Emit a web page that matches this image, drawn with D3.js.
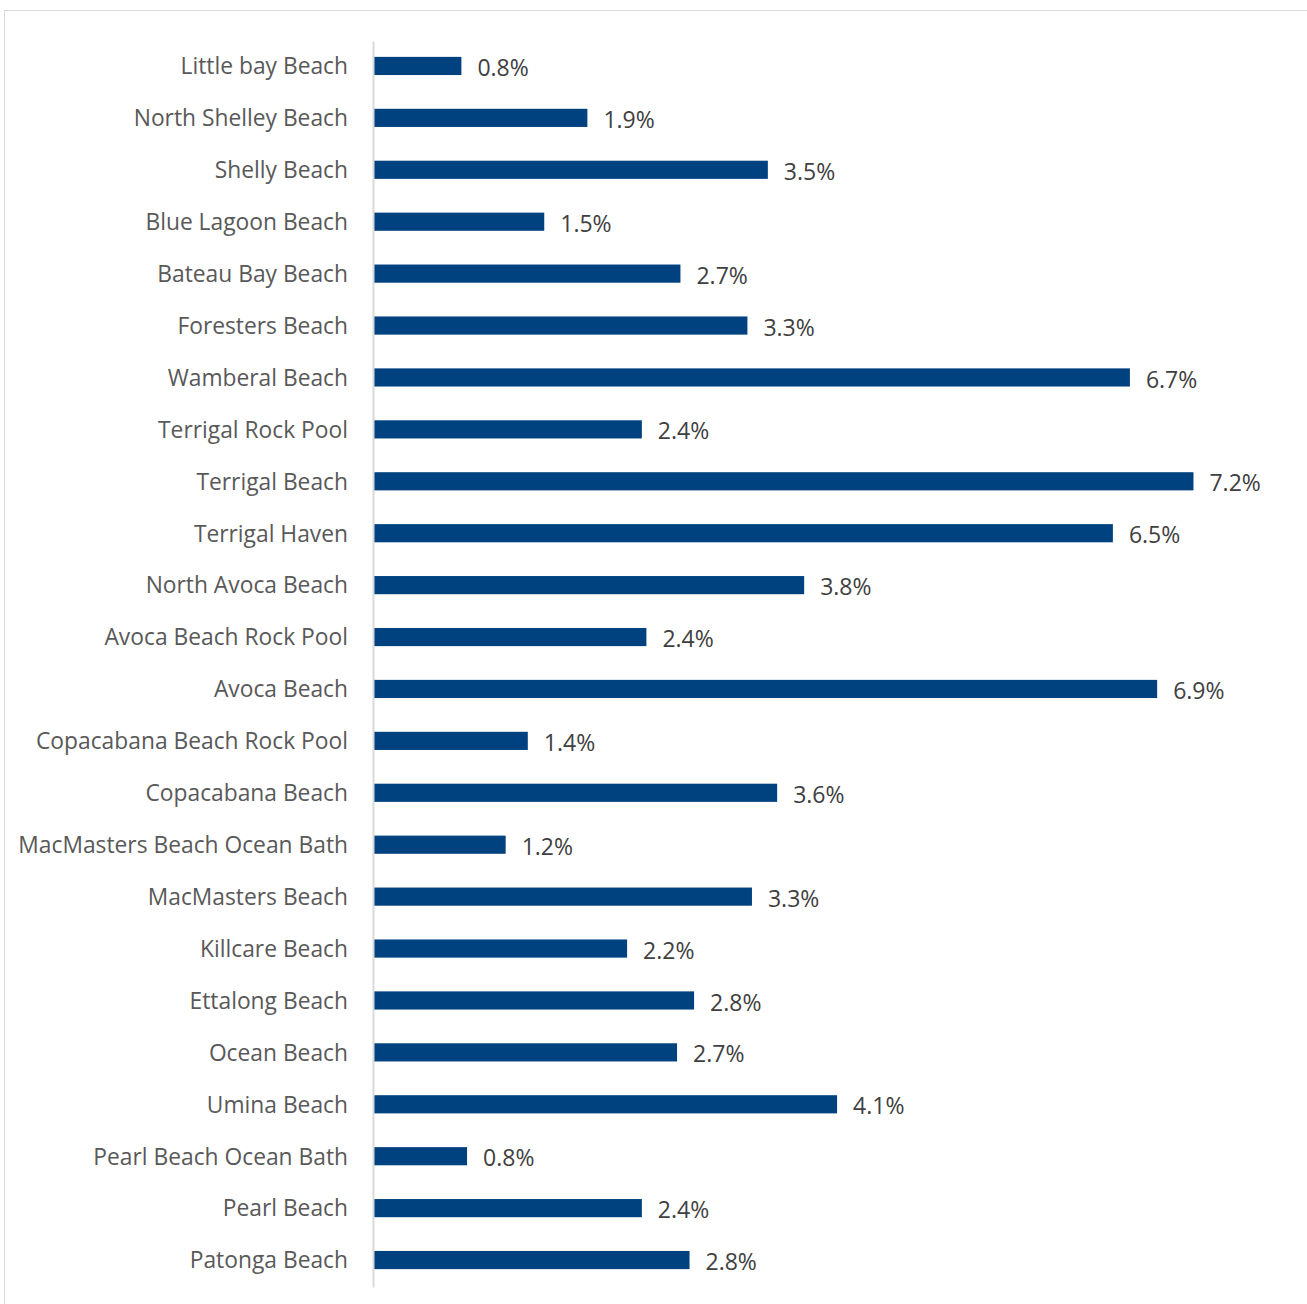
<!DOCTYPE html>
<html><head><meta charset="utf-8">
<script src="https://cdn.jsdelivr.net/npm/d3@7"></script>
<style>body{margin:0;background:#fff}</style>
</head><body>
<script>
const categories = ["Little bay Beach","North Shelley Beach","Shelly Beach","Blue Lagoon Beach","Bateau Bay Beach","Foresters Beach","Wamberal Beach","Terrigal Rock Pool","Terrigal Beach","Terrigal Haven","North Avoca Beach","Avoca Beach Rock Pool","Avoca Beach","Copacabana Beach Rock Pool","Copacabana Beach","MacMasters Beach Ocean Bath","MacMasters Beach","Killcare Beach","Ettalong Beach","Ocean Beach","Umina Beach","Pearl Beach Ocean Bath","Pearl Beach","Patonga Beach"];
const values = [0.77,1.88,3.47,1.50,2.70,3.29,6.66,2.36,7.22,6.51,3.79,2.40,6.90,1.355,3.552,1.16,3.33,2.23,2.82,2.67,4.08,0.82,2.36,2.78];

const W = 1307, H = 1304;
const svg = d3.select("body").append("svg").attr("width", W).attr("height", H);
svg.append("rect").attr("x",4.5).attr("y",10.5).attr("width",W).attr("height",H)
  .attr("fill","#fff").attr("stroke","#d9d9d9").attr("stroke-width",1);

const x = d3.scaleLinear().domain([0, 8]).range([374, 374 + 908]);
const y = d3.scaleBand().domain(categories).range([40, 1286]).paddingInner(0.65).paddingOuter(0.325);

const font = "'Open Sans', 'Noto Sans', sans-serif";

svg.selectAll("rect.bar").data(values).join("rect").attr("class","bar")
  .attr("x", x(0)).attr("y", (d,i)=>y(categories[i]))
  .attr("width", d=>x(d)-x(0)).attr("height", y.bandwidth())
  .attr("fill", "#00427f");

const yAxis = svg.append("g").attr("transform", `translate(${x(0)-1},1)`)
  .call(d3.axisLeft(y).tickSize(0).tickPadding(25));
yAxis.select(".domain").attr("stroke","#d9d9d9").attr("stroke-width",2);
yAxis.selectAll("text").attr("font-family", font).attr("font-size", 22.8).attr("fill","#595959");

svg.selectAll("text.val").data(values).join("text").attr("class","val")
  .attr("x", d=>x(d)+16).attr("y", (d,i)=>y(categories[i])+y.bandwidth()/2+2)
  .attr("dy","0.35em").attr("font-family", font).attr("font-size", 23).attr("fill","#404040")
  .text(d=>d.toFixed(1)+"%");
</script>
</body></html>
